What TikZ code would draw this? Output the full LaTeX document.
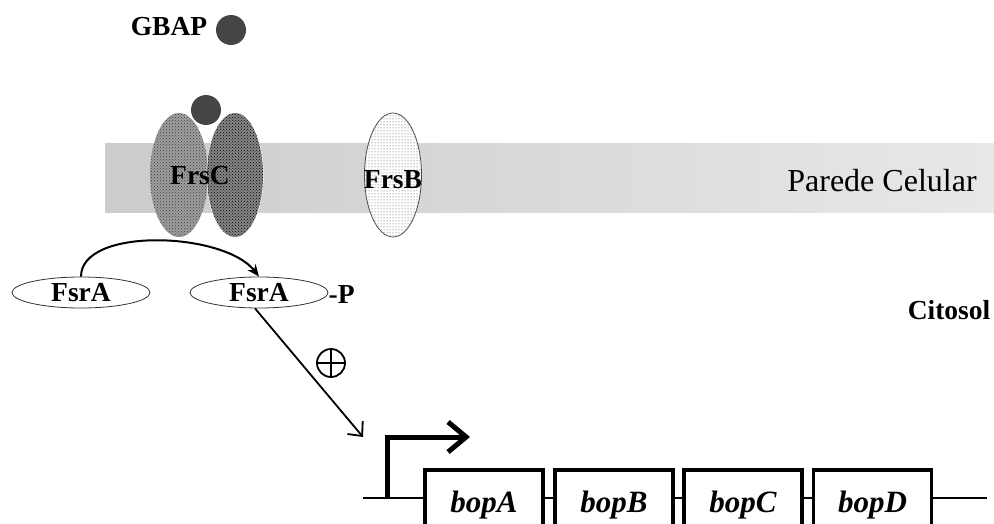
\documentclass[tikz,border=0pt]{standalone}
\usepackage{fontspec}
\setmainfont{Liberation Serif}
\usetikzlibrary{shapes.geometric,arrows.meta,patterns}
\definecolor{ligand}{gray}{0.27}
\tikzset{
  lbl/.style={font=\fontsize{27.5}{27.5}\selectfont\bfseries, inner sep=0pt},
  fsra/.style={ellipse, draw=black!80, line width=0.8pt, fill=white, minimum width=138pt, minimum height=31pt, inner sep=0pt, font=\fontsize{27.5}{27.5}\selectfont\bfseries},
  gene/.style={rectangle, draw, line width=3.2pt, fill=white, minimum width=118pt, minimum height=70pt, inner sep=0pt, font=\fontsize{31}{31}\selectfont\bfseries\itshape},
  thin/.style={line width=1.8pt},
}
\begin{document}
\begin{tikzpicture}[x=1pt,y=-1pt]
\path[use as bounding box] (0,0) rectangle (994,524);
\clip (0,0) rectangle (994,524);
% cell wall band
\shade[left color=black!20, right color=black!9] (105,144) rectangle (994,213);
\node[font=\fontsize{32}{32}\selectfont, anchor=base, inner sep=0pt] (wall) at (882,192) {Parede Celular};
\node[lbl, anchor=base] (cito) at (949,319) {Citosol};
% GBAP
\node[lbl, anchor=base] (gbap) at (169,36) {GBAP};
\fill[ligand] (231,30) circle (15);
% FrsC
\fill[black!38] (179,175) ellipse (29 and 62);
\fill[pattern=crosshatch dots, pattern color=black!75] (179,175) ellipse (29 and 62);
\fill[white] (235,175) ellipse (28.5 and 62.5);
\fill[black!48] (235,175) ellipse (28 and 62);
\fill[pattern=crosshatch dots, pattern color=black] (235,175) ellipse (28 and 62);
\fill[ligand] (206,110) circle (15);
\node[lbl, anchor=base] (frsc) at (200,185) {FrsC};
% FrsB
\filldraw[draw=black!70, line width=0.8pt, fill=white] (393,175) ellipse (28.5 and 62);
\fill[pattern=dots, pattern color=black!70] (393,175) ellipse (28 and 61.5);
\node[lbl, anchor=base] (frsb) at (393,189) {FrsB};
% FsrA
\node[fsra] (fsra1) at (81,292.5) {FsrA};
\node[fsra] (fsra2) at (259,292.5) {FsrA};
\node[lbl, anchor=base west] (p) at (fsra2.east |- 0,303) {-P};
\draw[line width=2pt, -{Stealth[length=12pt,width=10pt]}] (fsra1.north) .. controls +(0,-50) and +(-35,-45) .. (fsra2.north);
% activation arrow
\coordinate (prom) at (363,437);
\draw[thin, -{Straight Barb[length=11pt,width=20pt]}] (fsra2.south) ++(-4,0) -- (prom);
\node[circle, draw, thin, minimum size=28pt, inner sep=0pt] (plus) at (331,363) {};
\draw[thin] (plus.north) -- (plus.south) (plus.west) -- (plus.east);
% DNA
\coordinate (dnaL) at (363,498);
\coordinate (dnaR) at (987,498);
\draw[thin] (dnaL) -- (dnaR);
\coordinate (tss) at (387,499);
\coordinate (tssE) at (470,437);
\draw[line width=5pt, -{Straight Barb[length=18pt,width=30pt]}] (tss) |- (tssE);
\node[gene] (bopA) at (484,505) {bopA};
\node[gene] (bopB) at (614,505) {bopB};
\node[gene] (bopC) at (743,505) {bopC};
\node[gene] (bopD) at (872.5,505) {bopD};
\end{tikzpicture}
\end{document}
